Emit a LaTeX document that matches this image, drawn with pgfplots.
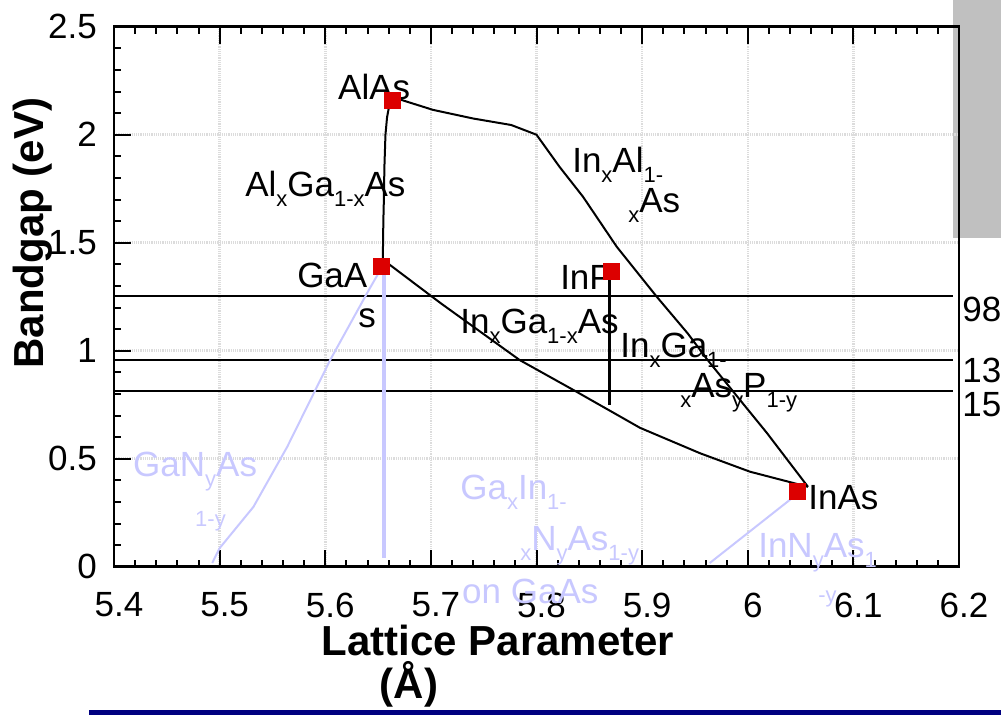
\documentclass[border=0pt]{standalone}
\usepackage{fontspec}
\setmainfont{Liberation Sans}
\usepackage{pgfplots}
\pgfplotsset{compat=1.18}
\definecolor{lblue}{RGB}{200,200,255}
\definecolor{sqred}{RGB}{220,0,0}
\definecolor{gridgray}{RGB}{220,220,220}
\definecolor{navyline}{RGB}{0,0,128}
\definecolor{boxgray}{RGB}{192,192,192}
\newcommand\fs{\fontsize{35}{40}\selectfont}
\newcommand\sfs{\fontsize{22}{24}\selectfont}
\newcommand\sub[1]{\raisebox{-10pt}{\sfs #1}}
\begin{document}
\begin{tikzpicture}
\useasboundingbox (0,0) rectangle (1001pt,-715pt);
\fill[boxgray] (953pt,0pt) rectangle (1001pt,-238pt);
\fill[navyline] (89pt,-710pt) rectangle (1001pt,-715pt);
\begin{axis}[
  at={(114pt,-566.7pt)}, anchor=south west,
  scale only axis, width=845pt, height=540pt,
  xmin=5.4, xmax=6.2, ymin=0, ymax=2.5,
  xtick={5.4,5.5,5.6,5.7,5.8,5.9,6.0,6.1,6.2},
  xticklabels={5.4,5.5,5.6,5.7,5.8,5.9,6,6.1,6.2},
  ytick={0,0.5,1,1.5,2,2.5},
  yticklabels={0\hspace{7pt},0.5,1\hspace{6pt},1.5,2\hspace{7pt},2.5},
  minor x tick num=4, minor y tick num=4,
  tick align=inside, ytick pos=left, xtick pos=both,
  major tick length=17pt, minor tick length=7pt,
  every tick/.style={black, line width=2pt},
  axis line style={line width=2.5pt},
  grid=major,
  major grid style={gridgray, line width=2.5pt, dash pattern=on 1.2pt off 1pt},
  /pgf/number format/assume math mode=true,
  tick label style={font=\fs},
  xticklabel style={anchor=north, inner sep=0pt, yshift=-26pt, xshift=5pt},
  yticklabel style={anchor=east, inner sep=0pt, xshift=-17pt},
  clip=false,
]
% wavelength lines
\addplot[black, line width=2pt] coordinates {(5.4,1.254)(6.1945,1.254)};
\addplot[black, line width=2pt] coordinates {(5.4,0.957)(6.1945,0.957)};
\addplot[black, line width=2pt] coordinates {(5.4,0.814)(6.1945,0.814)};
% binary compounds
\addplot[only marks, mark=square*, mark size=8pt, color=sqred, mark options={draw=none, fill=sqred}]
  coordinates {(5.663,2.161)(5.653,1.39)(5.871,1.37)(6.047,0.35)};
% AlGaAs
\addplot[black, line width=2pt] coordinates {(5.6545,1.422)(5.6550,1.60)(5.6555,1.70)(5.6560,1.85)(5.6570,2.00)(5.6585,2.08)(5.6600,2.12)(5.6630,2.175)};
% InAlAs
\addplot[black, line width=2pt] coordinates {(5.663,2.175)(5.702,2.115)(5.740,2.075)(5.776,2.045)(5.800,2.000)(5.822,1.85)(5.844,1.713)(5.876,1.481)(5.914,1.249)(5.943,1.081)(5.962,0.957)(5.998,0.740)(6.018,0.620)(6.057,0.37)};
% InGaAs
\addplot[black, line width=2pt] coordinates {(5.6545,1.422)(5.709,1.221)(5.784,0.957)(5.835,0.818)(5.898,0.643)(5.955,0.525)(6.002,0.44)(6.057,0.37)};
% InGaAsP on InP
\addplot[black, line width=3.5pt] coordinates {(5.869,1.37)(5.869,0.75)};
% GaNAs
\addplot[lblue, line width=2pt] coordinates {(5.493,0.017)(5.500,0.086)(5.532,0.277)(5.564,0.555)(5.605,0.96)(5.640,1.27)(5.654,1.39)};
% GaInNAs on GaAs
\addplot[lblue, line width=3.5pt] coordinates {(5.6557,1.37)(5.6557,0.04)};
% InNAs
\addplot[lblue, line width=2pt] coordinates {(5.964,0.017)(6.054,0.364)};
% labels
\begin{scope}[every node/.style={anchor=base west, inner sep=0pt, font=\fs}]
\node at (axis cs:5.6121,2.1617) {AlAs};
\node at (axis cs:5.5241,1.7124) {Al\sub{x}Ga\sub{1-x}As};
\node at (axis cs:5.5733,1.2909) {GaA};
\node at (axis cs:5.6311,1.1056) {s};
\node at (axis cs:5.7277,1.0778) {In\sub{x}Ga\sub{1-x}As};
\node at (axis cs:5.8223,1.2816) {InP};
\node at (axis cs:5.8337,1.8235) {In\sub{x}Al\sub{1-}};
\node at (axis cs:5.8867,1.6382) {\sub{x}As};
\node at (axis cs:5.8792,0.9669) {In\sub{x}Ga\sub{1-}};
\node at (axis cs:5.936,0.7814) {\sub{x}As\sub{y}P\sub{1-y}};
\node at (axis cs:6.0572,0.2626) {InAs};
\node at (axis cs:6.203,1.1334) {980nm};
\node at (axis cs:6.203,0.8508) {1300nm};
\node at (axis cs:6.203,0.6934) {1550nm};
\node[text=lblue] at (axis cs:5.418,0.4155) {GaN\sub{y}As};
\node[text=lblue, font=\sfs] at (axis cs:5.4767,0.1839) {1-y};
\node[text=lblue] at (axis cs:5.7277,0.3089) {Ga\sub{x}In\sub{1-}};
\node[text=lblue] at (axis cs:5.7845,0.0773) {\sub{x}N\sub{y}As\sub{1-y}};
\node[text=lblue] at (axis cs:5.7295,-0.1681) {on GaAs};
\node[text=lblue] at (axis cs:6.0098,0.0449) {InN\sub{y}As\sub{1}};
\node[text=lblue, font=\sfs] at (axis cs:6.0667,-0.168) {-y};
\end{scope}
\end{axis}
\node[anchor=base, inner sep=0pt, font=\fontsize{42}{48}\selectfont\bfseries] at (498pt,-655pt) {Lattice Parameter};
\node[anchor=base, inner sep=0pt, font=\fontsize{42}{48}\selectfont\bfseries] at (409pt,-698pt) {(Å)};
\node[rotate=90, anchor=base, inner sep=0pt, font=\fontsize{42}{48}\selectfont\bfseries] at (43pt,-233pt) {Bandgap (eV)};
\end{tikzpicture}
\end{document}
